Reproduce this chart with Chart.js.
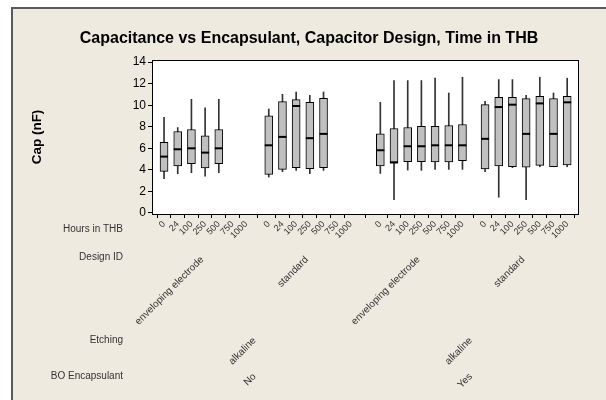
<!DOCTYPE html>
<html>
<head>
<meta charset="utf-8">
<script src="https://cdn.jsdelivr.net/npm/chart.js@4"></script>
<style>
  html, body { margin: 0; padding: 0; background: #fff; }
  #wrap { position: relative; width: 606px; height: 400px; overflow: hidden; }
  #frame {
    position: absolute; left: 11px; top: 7px; right: -4px; bottom: -4px;
    background: #EEEAE0; border-left: 2px solid #5a5a5a; border-top: 2px solid #5a5a5a;
  }
  #chart { position: absolute; left: 0; top: 0; }
</style>
</head>
<body>
<div id="wrap">
  <div id="frame"></div>
  <canvas id="chart" width="606" height="400"></canvas>
</div>
<script>
'use strict';

// ─────────────────────────────────────────────
// DATA
// ─────────────────────────────────────────────

const chartTitle  = 'Capacitance vs Encapsulant, Capacitor Design, Time in THB';
const hours       = ['0', '24', '100', '250', '500', '750', '1000'];
const designIds   = ['enveloping electrode', 'standard', 'enveloping electrode', 'standard'];
const etching     = ['alkaline', 'alkaline'];
const encapsulant = ['No', 'Yes'];
const rowTitles   = ['Hours in THB', 'Design ID', 'Etching', 'BO Encapsulant'];
const yTicks      = [0, 2, 4, 6, 8, 10, 12, 14];

// one entry per box: encapsulant > design > hours (null = no data)
const whiskerLow = [
  3.17, 3.64, 3.73, 3.42, 3.73, null, null,
  3.33, 3.83, 3.95, 3.64, 3.95, null, null,
  3.67, 1.24, 3.98, 3.95, 4.04, 4.04, 4.04,
  3.83, 1.46, 4.20, 1.24, 4.29, 4.29, 4.29,
];
const q1 = [
  3.86, 4.36, 4.57, 4.17, 4.57, null, null,
  3.58, 4.04, 4.20, 4.10, 4.20, null, null,
  4.36, 4.62, 4.76, 4.76, 4.73, 4.73, 4.85,
  4.08, 4.36, 4.29, 4.26, 4.42, 4.29, 4.45,
];
const medians = [
  5.23, 5.91, 6.00, 5.60, 6.00, null, null,
  6.28, 7.06, 9.93, 6.94, 7.34, null, null,
  5.82, 4.70, 6.19, 6.19, 6.28, 6.28, 6.28,
  6.88, 9.83, 10.05, 7.34, 10.17, 7.34, 10.27,
];
const q3 = [
  6.56, 7.56, 7.75, 7.16, 7.75, null, null,
  9.02, 10.33, 10.52, 10.27, 10.64, null, null,
  7.34, 7.84, 7.93, 8.03, 8.03, 8.12, 8.21,
  10.05, 10.73, 10.73, 10.61, 10.83, 10.61, 10.83,
];
const whiskerHigh = [
  8.87, 7.93, 10.55, 9.77, 10.55, null, null,
  9.65, 11.01, 11.23, 10.92, 11.23, null, null,
  10.27, 12.29, 12.29, 12.29, 12.51, 11.14, 12.60,
  10.36, 12.38, 12.38, 10.92, 12.60, 11.14, 12.51,
];

// ─────────────────────────────────────────────
// LAYOUT (x positions of the nested categories)
// ─────────────────────────────────────────────

const DESIGN_GAP = 1.65;   // extra room between design groups
const ENCAP_GAP  = 2.15;   // extra room between encapsulant groups
const FONT = '"Liberation Sans", Arial, sans-serif';

const groupStart = [];
designIds.forEach((d, g) => {
  if (g === 0) groupStart.push(0);
  else groupStart.push(groupStart[g - 1] + hours.length - 1 + (g % 2 === 0 ? ENCAP_GAP : DESIGN_GAP));
});
const positions = [];
groupStart.forEach(s => hours.forEach((h, i) => positions.push(s + i)));

const boxes     = [];
const whiskers  = [];
const medPoints = [];
positions.forEach((x, i) => {
  if (medians[i] == null) return;
  boxes.push({ x, y: [q1[i], q3[i]] });
  whiskers.push({ x, y: [whiskerLow[i], whiskerHigh[i]] });
  medPoints.push({ x, y: medians[i] });
});

// ─────────────────────────────────────────────
// PLUGINS
// ─────────────────────────────────────────────

const plotFrame = {
  id: 'plotFrame',
  beforeDatasetsDraw(chart) {
    const { ctx, chartArea: a } = chart;
    ctx.save();
    ctx.fillStyle = '#fff';
    ctx.fillRect(a.left, a.top, a.right - a.left, a.bottom - a.top);
    ctx.restore();
  },
  afterDraw(chart) {
    const { ctx, chartArea: a } = chart;
    ctx.save();
    ctx.strokeStyle = '#000';
    ctx.lineWidth = 1;
    ctx.strokeRect(Math.round(a.left) + 0.5, Math.round(a.top) + 0.5,
                   Math.round(a.right - a.left), Math.round(a.bottom - a.top));
    // title, centred on the beige frame
    ctx.fillStyle = '#000';
    ctx.font = 'bold 16px ' + FONT;
    ctx.textAlign = 'center';
    ctx.textBaseline = 'alphabetic';
    ctx.fillText(chartTitle, 309, 43);
    ctx.restore();
  }
};

function rotText(ctx, text, px, py) {
  ctx.save();
  ctx.translate(px, py);
  ctx.rotate(-Math.PI / 4);
  ctx.textAlign = 'right';
  ctx.textBaseline = 'middle';
  ctx.fillText(text, 0, 0);
  ctx.restore();
}

const nestedLabels = {
  id: 'nestedLabels',
  afterDraw(chart) {
    const { ctx } = chart;
    const xs = chart.scales.x;
    const n = hours.length - 1;
    ctx.save();
    ctx.fillStyle = '#333';

    ctx.font = '10px ' + FONT;
    ctx.textAlign = 'right';
    ctx.textBaseline = 'middle';
    [229, 257, 340, 376].forEach((y, i) => ctx.fillText(rowTitles[i], 123, y));

    const centers = groupStart.map(s => xs.getPixelForValue(s + n / 2));
    designIds.forEach((d, g) => rotText(ctx, d, centers[g] - 3, 258));
    etching.forEach((e, k) => rotText(ctx, e, (centers[2 * k] + centers[2 * k + 1]) / 2 - 3, 339));
    encapsulant.forEach((e, k) => rotText(ctx, e, (centers[2 * k] + centers[2 * k + 1]) / 2 - 3, 375));
    ctx.restore();
  }
};

// ─────────────────────────────────────────────
// CHART
// ─────────────────────────────────────────────

new Chart(document.getElementById('chart'), {
  type: 'bar',
  data: {
    datasets: [
      {
        type: 'line', data: medPoints, showLine: false, order: 1,
        pointStyle: 'line', pointRadius: 4, pointBorderWidth: 2,
        borderColor: '#000', backgroundColor: '#000',
      },
      {
        data: boxes, grouped: false, order: 2, barThickness: 8,
        backgroundColor: '#C0C0C0', borderColor: '#000', borderWidth: 1, borderSkipped: false,
      },
      {
        data: whiskers, grouped: false, order: 3, barThickness: 1,
        backgroundColor: '#333', borderWidth: 0,
      },
    ]
  },
  options: {
    responsive: false,
    animation: false,
    events: [],
    layout: { padding: { left: 0, right: 28, top: 60, bottom: 0 } },
    plugins: {
      legend: { display: false },
      tooltip: { enabled: false },
      title: { display: false },
    },
    scales: {
      x: {
        type: 'linear',
        offset: false,
        min: -0.88,
        max: 30.24,
        afterBuildTicks: s => { s.ticks = positions.map(v => ({ value: v })); },
        afterFit: s => { s.height = 186; s.paddingLeft = 0; s.paddingRight = 0; },
        ticks: {
          autoSkip: false, minRotation: 45, maxRotation: 45, padding: 1,
          color: '#333', font: { family: FONT, size: 9 },
          callback: (v, i) => hours[i % hours.length],
        },
        grid: { drawOnChartArea: false, drawTicks: true, tickLength: 4, color: '#000' },
        border: { display: true, color: '#000' },
      },
      y: {
        min: -0.1,
        max: 14.2,
        afterBuildTicks: s => { s.ticks = yTicks.map(v => ({ value: v })); },
        afterFit: s => { s.width = 152; s.paddingTop = 0; s.paddingBottom = 0; },
        ticks: { padding: 2, color: '#000', font: { family: FONT, size: 12 } },
        grid: { drawOnChartArea: false, drawTicks: true, tickLength: 4, color: '#000' },
        border: { display: true, color: '#000' },
        title: {
          display: true, text: 'Cap (nF)', color: '#000',
          font: { family: FONT, size: 13.5, weight: 'bold' },
          padding: { top: 29, bottom: 0 },
        },
      },
    },
  },
  plugins: [plotFrame, nestedLabels],
});
</script>
</body>
</html>
